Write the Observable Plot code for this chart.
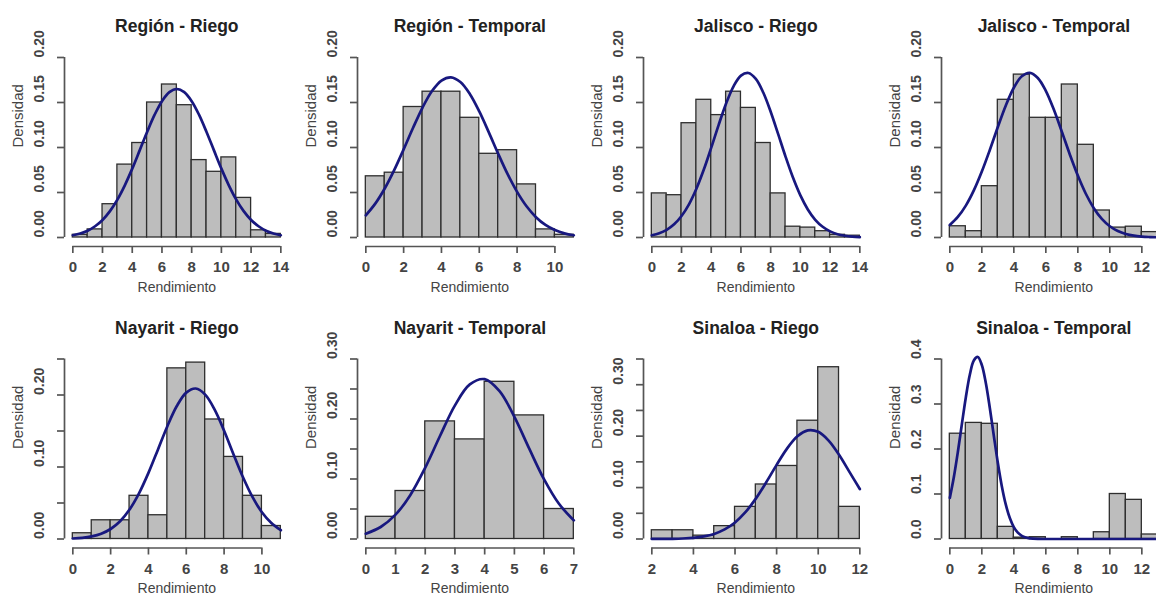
<!DOCTYPE html>
<html><head><meta charset="utf-8">
<script src="https://cdn.jsdelivr.net/npm/d3@7"></script>
<script src="https://cdn.jsdelivr.net/npm/@observablehq/plot@0.6"></script>
<style>
html,body{margin:0;padding:0;background:#fff;overflow:hidden}
#wrap{position:relative;width:1156px;height:595px;overflow:hidden;background:#fff}
#wrap svg{position:absolute;overflow:visible;max-width:none}
</style></head><body><div id="wrap"></div>
<script>
// ---------- data ----------
const titles = ["Región - Riego","Región - Temporal","Jalisco - Riego","Jalisco - Temporal",
                "Nayarit - Riego","Nayarit - Temporal","Sinaloa - Riego","Sinaloa - Temporal"];
const xLabel = "Rendimiento";
const yLabel = "Densidad";

// histogram bins: [first lower edge, last upper edge], unit-width bins
const binRanges = [[0,14],[0,11],[0,14],[0,13],[0,11],[0,7],[2,12],[0,13]];

// bar densities
const dens1 = [0.003,0.009,0.037,0.081,0.105,0.150,0.170,0.147,0.086,0.073,0.089,0.044,0.008,0.004];
const dens2 = [0.068,0.072,0.145,0.162,0.162,0.133,0.093,0.097,0.059,0.009,0.003];
const dens3 = [0.049,0.047,0.127,0.153,0.136,0.162,0.144,0.105,0.049,0.012,0.011,0.007,0.003,0.002];
const dens4 = [0.0125,0.007,0.057,0.153,0.181,0.133,0.133,0.170,0.103,0.030,0.011,0.012,0.006];
const dens5 = [0.008,0.026,0.026,0.060,0.033,0.237,0.245,0.166,0.114,0.060,0.018];
const dens6 = [0.037,0.080,0.196,0.166,0.262,0.206,0.050];
const dens7 = [0.017,0.017,0.0065,0.025,0.0625,0.106,0.142,0.230,0.334,0.0625];
const dens8 = [0.234,0.258,0.256,0.027,0.003,0.004,0,0.004,0,0.015,0.100,0.087,0.010];

// fitted normal curves
const cx1 = [0,0.5,1,1.5,2,2.5,3,3.5,4,4.5,5,5.5,6,6.5,7,7.5,8,8.5,9,9.5,10,10.5,11,11.5,12,12.5,13,13.5,14];
const cy1 = [0.0025,0.0045,0.0076,0.0125,0.0195,0.0293,0.0421,0.0580,0.0765,0.0968,0.1172,0.1362,0.1515,0.1615,0.1650,0.1615,0.1515,0.1362,0.1172,0.0968,0.0765,0.0580,0.0421,0.0293,0.0195,0.0125,0.0076,0.0045,0.0025];
const cx2 = [0,0.5,1,1.5,2,2.5,3,3.5,4,4.5,5,5.5,6,6.5,7,7.5,8,8.5,9,9.5,10,10.5,11];
const cy2 = [0.0247,0.0376,0.0544,0.0748,0.0979,0.1219,0.1444,0.1627,0.1744,0.1780,0.1727,0.1595,0.1401,0.1171,0.0931,0.0704,0.0507,0.0347,0.0226,0.0140,0.0083,0.0046,0.0025];
const cx3 = [0,0.5,1,1.5,2,2.5,3,3.5,4,4.5,5,5.5,6,6.5,7,7.5,8,8.5,9,9.5,10,10.5,11,11.5,12,12.5,13,13.5,14];
const cy3 = [0.0025,0.0047,0.0085,0.0146,0.0239,0.0369,0.0542,0.0755,0.0998,0.1252,0.1489,0.1680,0.1799,0.1828,0.1762,0.1611,0.1398,0.1151,0.0899,0.0666,0.0468,0.0312,0.0197,0.0119,0.0068,0.0036,0.0019,0.0009,0.0004];
const cx4 = [0,0.5,1,1.5,2,2.5,3,3.5,4,4.5,5,5.5,6,6.5,7,7.5,8,8.5,9,9.5,10,10.5,11,11.5,12,12.5,13];
const cy4 = [0.0139,0.0228,0.0354,0.0523,0.0733,0.0973,0.1227,0.1467,0.1664,0.1791,0.1830,0.1773,0.1630,0.1421,0.1176,0.0923,0.0688,0.0486,0.0326,0.0207,0.0125,0.0072,0.0039,0.0020,0.0010,0.0005,0.0002];
const cx5 = [0,0.5,1,1.5,2,2.5,3,3.5,4,4.5,5,5.5,6,6.5,7,7.5,8,8.5,9,9.5,10,10.5,11];
const cy5 = [0.0007,0.0016,0.0036,0.0073,0.0139,0.0246,0.0409,0.0634,0.0918,0.1241,0.1567,0.1847,0.2033,0.2090,0.2005,0.1797,0.1504,0.1175,0.0857,0.0584,0.0372,0.0221,0.0122];
const cx6 = [0,0.5,1,1.5,2,2.5,3,3.5,4,4.5,5,5.5,6,6.5,7];
const cy6 = [0.0088,0.0200,0.0406,0.0735,0.1189,0.1721,0.2227,0.2576,0.2664,0.2463,0.2036,0.1505,0.0994,0.0587,0.0310];
const cx7 = [2,2.5,3,3.5,4,4.5,5,5.5,6,6.5,7,7.5,8,8.5,9,9.5,10,10.5,11,11.5,12];
const cy7 = [0.0001,0.0002,0.0004,0.0010,0.0023,0.0050,0.0099,0.0186,0.0322,0.0521,0.0785,0.1102,0.1442,0.1758,0.1997,0.2113,0.2084,0.1914,0.1638,0.1306,0.0971];
const cx8 = [0,0.25,0.5,0.75,1,1.25,1.5,1.75,2,2.25,2.5,2.75,3,3.25,3.5,3.75,4,4.25,4.5,4.75,5,5.5,6,7,8,9,10,11,12,13];
const cy8 = [0.0913,0.1371,0.1928,0.2544,0.3146,0.3649,0.3967,0.4045,0.3866,0.3466,0.2912,0.2295,0.1695,0.1174,0.0763,0.0465,0.0265,0.0142,0.0071,0.0034,0.0015,0.0002,0,0,0,0,0,0,0,0];

// axis ticks and labels
const xTicks = [[0,2,4,6,8,10,12,14],[0,2,4,6,8,10],[0,2,4,6,8,10,12,14],[0,2,4,6,8,10,12],
                [0,2,4,6,8,10],[0,1,2,3,4,5,6,7],[2,4,6,8,10,12],[0,2,4,6,8,10,12]];
const yTicksRow1 = [0,0.05,0.10,0.15,0.20];
const yTicks5 = [0,0.05,0.10,0.15,0.20,0.25];
const yTicks6 = [0,0.05,0.10,0.15,0.20,0.25,0.30];
const yTicks7 = [0,0.05,0.10,0.15,0.20,0.25,0.30,0.35];
const yTicks8 = [0,0.1,0.2,0.3,0.4];
const yLabs1 = [0,0.05,0.10,0.15,0.20];
const yLabs5 = [0,0.10,0.20];
const yLabs6 = [0,0.10,0.20,0.30];
const yLabs7 = [0,0.10,0.20,0.30];
const yLabs8 = [0,0.1,0.2,0.3,0.4];

const densAll = [dens1,dens2,dens3,dens4,dens5,dens6,dens7,dens8];
const curveX = [cx1,cx2,cx3,cx4,cx5,cx6,cx7,cx8];
const curveY = [cy1,cy2,cy3,cy4,cy5,cy6,cy7,cy8];
const yTicksAll = [yTicksRow1,yTicksRow1,yTicksRow1,yTicksRow1,yTicks5,yTicks6,yTicks7,yTicks8];
const yLabsAll = [yLabs1,yLabs1,yLabs1,yLabs1,yLabs5,yLabs6,yLabs7,yLabs8];
const yDigits = [2,2,2,2,2,2,2,1];

// ---------- layout ----------
const colData = [72, 365, 651, 949];   // px of first bin edge
const dataW = 208;
const rowTop = [0, 300];
const rowH = [300, 295];
const rowMT = [48, 49.5];
const rowMB = [54, 47.5];
const ML = 60, W = 290;
const padX = dataW * 0.04;
const frameW = dataW + 2 * padX;

const wrap = document.getElementById("wrap");
const axisCol = "#555";
const font = "'Liberation Sans', Arial, Helvetica, sans-serif";

for (let i = 0; i < 8; i++) {
  const r = Math.floor(i / 4), c = i % 4;
  const [xmin, xmax] = binRanges[i];
  const span = xmax - xmin;
  const xlo = xmin - 0.04 * span, xhi = xmax + 0.04 * span;
  const yt = yTicksAll[i];
  const T = yt[yt.length - 1];
  const ylo = -0.05 * T, yhi = 1.05 * T;
  const bins = densAll[i].map((d, k) => ({a: xmin + k, b: xmin + k + 1, d}));
  const curve = curveX[i].map((x, k) => ({x, y: curveY[i][k]}));
  const xt = xTicks[i];
  const fmt = d3.format("." + yDigits[i] + "f");

  const svg = Plot.plot({
    width: W,
    height: rowH[r],
    marginLeft: ML,
    marginRight: W - ML - frameW,
    marginTop: rowMT[r],
    marginBottom: rowMB[r],
    x: {domain: [xlo, xhi], axis: null},
    y: {domain: [ylo, yhi], axis: null},
    style: {fontFamily: font, color: axisCol, background: "transparent", overflow: "visible"},
    marks: [
      Plot.rect(bins, {x1: "a", x2: "b", y1: 0, y2: "d", fill: "#bdbdbd", stroke: "#2e2e2e", strokeWidth: 1.3}),
      Plot.line(curve, {x: "x", y: "y", stroke: "#18187f", strokeWidth: 2.7, curve: "catmull-rom"}),
      // axis lines (first tick to last tick)
      Plot.ruleX([xlo], {y1: 0, y2: T, stroke: axisCol, strokeWidth: 1.7}),
      Plot.ruleY([ylo], {x1: xt[0], x2: xt[xt.length - 1], stroke: axisCol, strokeWidth: 1.7}),
      Plot.axisY(yt, {anchor: "left", tickSize: 7, tickFormat: () => "", stroke: axisCol, strokeWidth: 1.7}),
      Plot.axisX(xt, {anchor: "bottom", tickSize: 7, tickFormat: () => "", stroke: axisCol, strokeWidth: 1.7}),
      // tick labels
      Plot.text(yLabsAll[i], {y: d => d, frameAnchor: "left", dx: -25, rotate: -90, text: d => fmt(d),
        fontSize: 14, fontWeight: "bold", fill: "#444"}),
      Plot.text(xt, {x: d => d, frameAnchor: "bottom", dy: 21, lineAnchor: "middle", text: d => String(d),
        fontSize: 15, fontWeight: "bold", fill: "#444"}),
      // titles and axis labels
      Plot.text([titles[i]], {frameAnchor: "top", dy: -22, lineAnchor: "middle", fontSize: 17.5, fontWeight: "bold", fill: "#222"}),
      Plot.text([xLabel], {frameAnchor: "bottom", dy: 41, lineAnchor: "middle", fontSize: 14, fill: "#444"}),
      Plot.text([yLabel], {frameAnchor: "left", dx: -46, rotate: -90, fontSize: 15, fill: "#444"})
    ]
  });
  svg.style.left = (colData[c] - padX - ML) + "px";
  svg.style.top = rowTop[r] + "px";
  wrap.appendChild(svg);
}
</script>
</body></html>
